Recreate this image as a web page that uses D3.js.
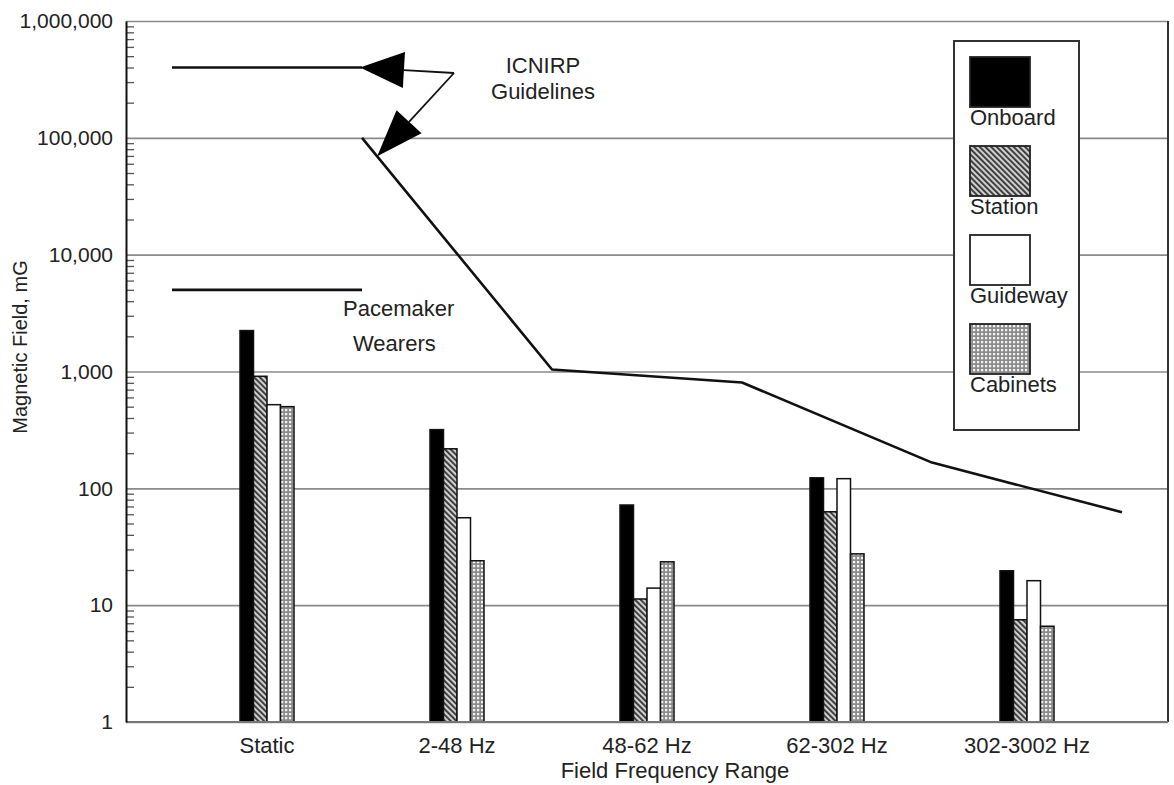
<!DOCTYPE html>
<html>
<head>
<meta charset="utf-8">
<script src="https://cdn.jsdelivr.net/npm/d3@7"></script>
<style>
  html, body { margin: 0; padding: 0; background: #fff; }
  svg { display: block; font-family: "Liberation Sans", Arial, sans-serif; }
</style>
</head>
<body>
<svg id="chart" width="1174" height="785"></svg>
<script>
// ---------- data ----------
const categories = ["Static", "2-48 Hz", "48-62 Hz", "62-302 Hz", "302-3002 Hz"];
const seriesNames = ["Onboard", "Station", "Guideway", "Cabinets"];
const onboard  = [2240, 318, 72, 123, 19.7];
const station  = [910, 218, 11.3, 63, 7.5];
const guideway = [520, 56, 14, 121, 16.2];
const cabinets = [500, 24, 23.5, 27.5, 6.6];

const yTickValues = [1, 10, 100, 1000, 10000, 100000, 1000000];
const yTickLabels = ["1", "10", "100", "1,000", "10,000", "100,000", "1,000,000"];

// ICNIRP guideline (x in category-index units, boundaries at +0.5)
const icnirpStaticX = [-0.5, 0.5];
const icnirpStaticY = [400000, 400000];
const icnirpX = [0.5, 1.5, 2.5, 3.5, 4.5];
const icnirpY = [100000, 1040, 806, 166, 62.5];
// Pacemaker wearers
const pacemakerX = [-0.5, 0.5];
const pacemakerY = [5000, 5000];

// ---------- layout ----------
const svg = d3.select("#chart");
const pL = 126, pR = 1168, pT = 21, pB = 722;

const y = d3.scaleLog().domain([1, 1e6]).range([pB, pT]);
const x = d3.scaleBand().domain(categories).range([172, 1122]).padding(0);
const xl = d3.scaleLinear().domain([-0.5, 4.5]).range([172, 1122]);
const groupW = 54;
const x1 = d3.scaleBand().domain(seriesNames).range([0, groupW]).padding(0);

// patterns
const defs = svg.append("defs");
const hatch = defs.append("pattern").attr("id", "hatch")
  .attr("width", 4).attr("height", 4).attr("patternUnits", "userSpaceOnUse")
  .attr("patternTransform", "rotate(-45)");
hatch.append("rect").attr("width", 4).attr("height", 4).attr("fill", "#d0d0d0");
hatch.append("rect").attr("width", 1.8).attr("height", 4).attr("fill", "#303030");

const dots = defs.append("pattern").attr("id", "dots")
  .attr("width", 4).attr("height", 4).attr("patternUnits", "userSpaceOnUse");
dots.append("rect").attr("width", 4).attr("height", 4).attr("fill", "#8c8c8c");
dots.append("rect").attr("x", 1).attr("y", 1).attr("width", 2.2).attr("height", 2.2).attr("fill", "#f4f4f4");

const fills = { Onboard: "#000", Station: "url(#hatch)", Guideway: "#fff", Cabinets: "url(#dots)" };
const seriesData = { Onboard: onboard, Station: station, Guideway: guideway, Cabinets: cabinets };

// gridlines
svg.append("g").attr("transform", `translate(${pL},0)`)
  .call(d3.axisRight(y).tickValues(yTickValues).tickSize(pR - pL).tickFormat(""))
  .call(g => g.select(".domain").remove())
  .call(g => g.selectAll("line").attr("stroke", "#8a8a8a").attr("stroke-width", 1.6));

// minor ticks
const minor = [];
for (let d = 1; d < 1e6; d *= 10) for (let k = 2; k <= 9; k++) minor.push(d * k);
svg.append("g").attr("transform", `translate(${pL},0)`)
  .call(d3.axisRight(y).tickValues(minor).tickSize(8).tickFormat(""))
  .call(g => g.select(".domain").remove())
  .call(g => g.selectAll("line").attr("stroke", "#555").attr("stroke-width", 1.3));

// right border
svg.append("line").attr("x1", pR).attr("x2", pR).attr("y1", pT).attr("y2", pB)
  .attr("stroke", "#333").attr("stroke-width", 2);

// bars
const barData = [];
categories.forEach((c, i) => seriesNames.forEach(s => barData.push({ c, s, v: seriesData[s][i] })));
svg.append("g").selectAll("rect").data(barData).join("rect")
  .attr("x", d => x(d.c) + x.bandwidth() / 2 - groupW / 2 + x1(d.s))
  .attr("width", x1.bandwidth())
  .attr("y", d => y(d.v))
  .attr("height", d => pB - y(d.v))
  .attr("fill", d => fills[d.s])
  .attr("stroke", "#111").attr("stroke-width", 1.5);

// bottom axis line
svg.append("line").attr("x1", pL).attr("x2", pR).attr("y1", pB).attr("y2", pB)
  .attr("stroke", "#777").attr("stroke-width", 1.8);

// left axis
const yAxis = svg.append("g").attr("transform", `translate(${pL},0)`)
  .call(d3.axisLeft(y).tickValues(yTickValues).tickSize(0).tickPadding(13)
    .tickFormat((d, i) => yTickLabels[i]));
yAxis.select(".domain").attr("stroke", "#111").attr("stroke-width", 2);
yAxis.selectAll("text").attr("font-size", 21).attr("fill", "#222")
  .attr("font-family", "Liberation Sans, Arial, sans-serif");

// x axis labels
const xAxis = svg.append("g").attr("transform", `translate(0,${pB})`)
  .call(d3.axisBottom(x).tickSize(0).tickPadding(15));
xAxis.select(".domain").remove();
xAxis.selectAll("text").attr("font-size", 22).attr("fill", "#222")
  .attr("font-family", "Liberation Sans, Arial, sans-serif");

// axis titles
svg.append("text").attr("x", 675).attr("y", 778).attr("text-anchor", "middle")
  .attr("font-size", 22).attr("fill", "#222").text("Field Frequency Range");
svg.append("text").attr("transform", "translate(27,347) rotate(-90)").attr("text-anchor", "middle")
  .attr("font-size", 20).attr("fill", "#222").text("Magnetic Field, mG");

// guideline lines
const line = d3.line().x(d => xl(d[0])).y(d => y(d[1]));
function drawLine(xs, ys) {
  svg.append("path").datum(xs.map((v, i) => [v, ys[i]]))
    .attr("d", line).attr("fill", "none").attr("stroke", "#111")
    .attr("stroke-width", 2.6).attr("stroke-linejoin", "round");
}
drawLine(icnirpStaticX, icnirpStaticY);
drawLine(icnirpX, icnirpY);
drawLine(pacemakerX, pacemakerY);

// annotation arrows
const knee = [454, 73];
const tip1 = [xl(0.5) - 2, y(400000)];
const f = 0.08; // fraction along first ICNIRP segment
const tip2 = [xl(0.5) + f * (xl(1.5) - xl(0.5)),
  y(icnirpY[0]) + f * (y(icnirpY[1]) - y(icnirpY[0]))];
function arrow(from, to, len, hw) {
  const dx = to[0] - from[0], dy = to[1] - from[1];
  const L = Math.hypot(dx, dy), ux = dx / L, uy = dy / L;
  const bx = to[0] - ux * len, by = to[1] - uy * len;
  svg.append("line").attr("x1", from[0]).attr("y1", from[1]).attr("x2", bx).attr("y2", by)
    .attr("stroke", "#111").attr("stroke-width", 1.8);
  svg.append("path").attr("d",
    `M${to[0]},${to[1]}L${bx - uy * hw},${by + ux * hw}L${bx + uy * hw},${by - ux * hw}Z`)
    .attr("fill", "#000");
}
arrow(knee, tip1, 44, 18);
arrow(knee, tip2, 47, 17);

// annotation text
svg.append("text").attr("x", 543).attr("y", 73).attr("text-anchor", "middle")
  .attr("font-size", 22).attr("fill", "#222").text("ICNIRP");
svg.append("text").attr("x", 543).attr("y", 99).attr("text-anchor", "middle")
  .attr("font-size", 22).attr("fill", "#222").text("Guidelines");
svg.append("text").attr("x", 343).attr("y", 316)
  .attr("font-size", 22).attr("fill", "#222").text("Pacemaker");
svg.append("text").attr("x", 353).attr("y", 351)
  .attr("font-size", 22).attr("fill", "#222").text("Wearers");

// legend
const lg = svg.append("g");
lg.append("rect").attr("x", 954).attr("y", 41).attr("width", 125).attr("height", 389)
  .attr("fill", "#fff").attr("stroke", "#333").attr("stroke-width", 2);
seriesNames.forEach((s, i) => {
  const yy = 57 + i * 89;
  lg.append("rect").attr("x", 970).attr("y", yy).attr("width", 60).attr("height", 50)
    .attr("fill", fills[s]).attr("stroke", "#222").attr("stroke-width", 1.8);
  lg.append("text").attr("x", 970).attr("y", yy + 68)
    .attr("font-size", 22).attr("fill", "#222").text(s);
});
</script>
</body>
</html>
